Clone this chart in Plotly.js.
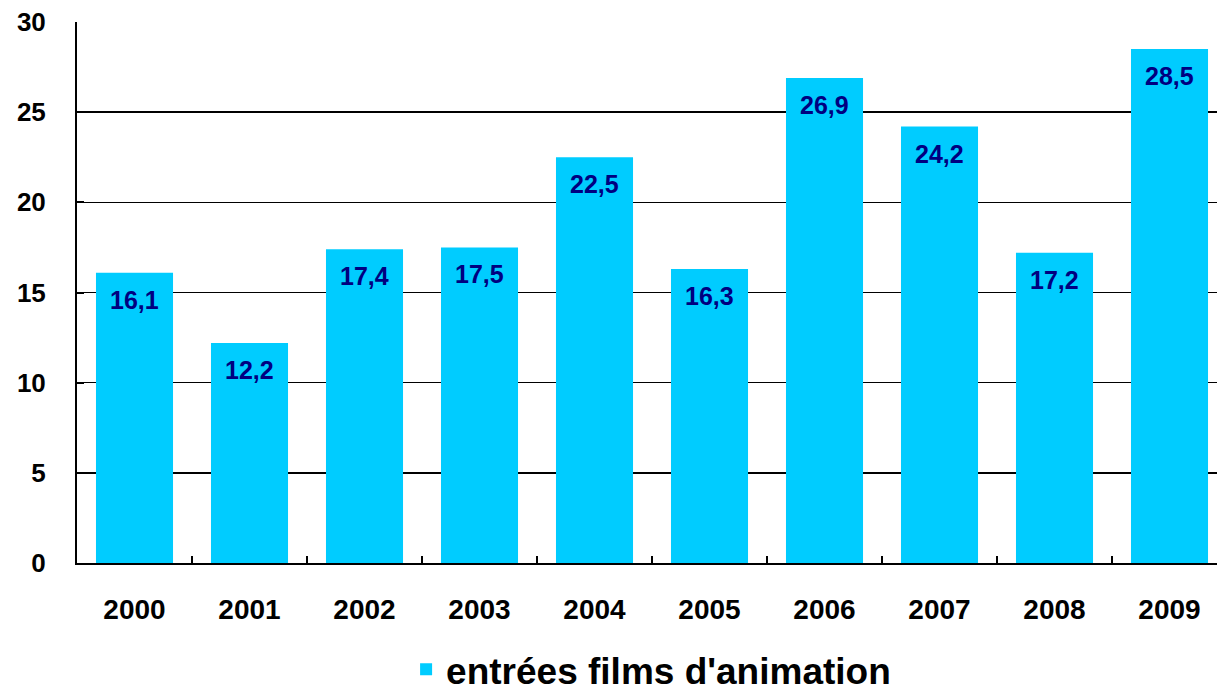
<!DOCTYPE html>
<html>
<head>
<meta charset="utf-8">
<script src="https://cdn.plot.ly/plotly-3.0.1.min.js"></script>
<style>html,body{margin:0;padding:0;background:#fff;}#chart{width:1217px;height:691px;}</style>
</head>
<body>
<div id="chart"></div>
<script>
const years = ['2000','2001','2002','2003','2004','2005','2006','2007','2008','2009'];
const entrees = [16.1, 12.2, 17.4, 17.5, 22.5, 16.3, 26.9, 24.2, 17.2, 28.5];
const seriesName = "entrées films d'animation";
const yTicks = [0, 5, 10, 15, 20, 25, 30];

const FONT = 'Liberation Sans, Arial, sans-serif';

const trace = {
  type: 'bar',
  x: years,
  y: entrees,
  name: seriesName,
  marker: {color: '#00CCFF', line: {width: 0}},
  width: 0.67,
  showlegend: true,
  hoverinfo: 'x+y'
};

const annotations = years.map((yr, i) => ({
  x: i, y: entrees[i], xref: 'x', yref: 'y',
  text: '<b>' + entrees[i].toFixed(1).replace('.', ',') + '</b>',
  showarrow: false, yanchor: 'middle', yshift: -27,
  font: {family: FONT, size: 25, color: '#000080'}
}));

const layout = {
  width: 1217, height: 691,
  margin: {l: 77, r: 0, t: 22, b: 128},
  paper_bgcolor: '#fff', plot_bgcolor: '#fff',
  font: {family: FONT, color: '#000'},
  bargap: 0.33,
  xaxis: {
    type: 'category',
    range: [-0.5, 9.413],
    showline: true, linecolor: '#000', linewidth: 2,
    ticks: 'inside', tickson: 'boundaries', ticklen: 7, tickwidth: 2, tickcolor: '#000',
    tickfont: {family: FONT, size: 28, color: '#000', weight: 'bold'},
    ticklabelstandoff: 20,
    showgrid: false, zeroline: false, fixedrange: true
  },
  yaxis: {
    range: [0, 30],
    tickvals: yTicks,
    ticktext: yTicks.map(String),
    showline: true, linecolor: '#000', linewidth: 2,
    ticks: 'inside', ticklen: 7, tickwidth: 2, tickcolor: '#000',
    tickfont: {family: FONT, size: 26, color: '#000', weight: 'bold'},
    ticklabelstandoff: 24,
    showgrid: true, gridcolor: '#000', gridwidth: 1.5,
    zeroline: false, fixedrange: true
  },
  showlegend: true,
  legend: {
    orientation: 'h', x: 0.535, xanchor: 'center', xref: 'container',
    y: 0.031, yanchor: 'middle', yref: 'container',
    font: {family: FONT, size: 37, color: '#000', weight: 'bold'},
    itemwidth: 30, bgcolor: 'rgba(0,0,0,0)'
  },
  annotations: annotations
};

Plotly.newPlot('chart', [trace], layout, {displayModeBar: false, staticPlot: true});
</script>
</body>
</html>
